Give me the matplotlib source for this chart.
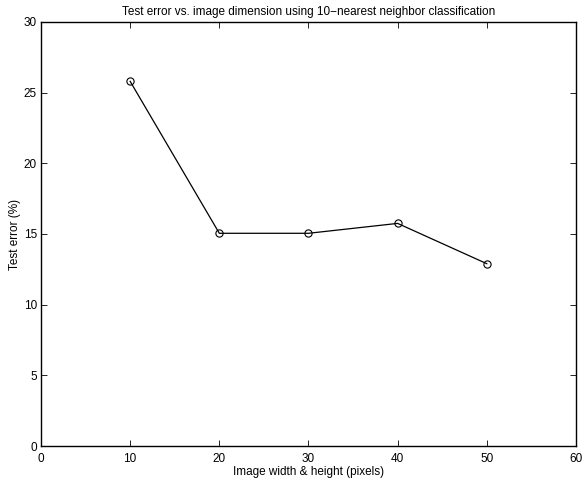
import matplotlib
matplotlib.use("Agg")
import matplotlib.pyplot as plt

plt.rcParams['font.family'] = ['Liberation Sans', 'DejaVu Sans']

# data
dims = [10, 20, 30, 40, 50]
test_error = [25.8, 15.05, 15.05, 15.75, 12.9]
xticks = [0, 10, 20, 30, 40, 50, 60]
yticks = [0, 5, 10, 15, 20, 25, 30]

fig = plt.figure(figsize=(5.84, 4.8), dpi=100)
ax = fig.add_axes([0.0702, 0.0708, 0.916, 0.8834])
ax.plot(dims, test_error, color='black', linewidth=0.9,
        marker='o', markersize=5.2, markerfacecolor='none', markeredgewidth=0.8)
ax.set_xlim(0, 60)
ax.set_ylim(0, 30)
ax.set_xticks(xticks)
ax.set_yticks(yticks)
ax.tick_params(direction='in', top=True, right=True, labelsize=8.5, length=4, width=0.6)
ax.tick_params(axis='x', pad=5)
ax.tick_params(axis='y', pad=3)
for s in ax.spines.values():
    s.set_linewidth(1.0)
ax.set_xlabel('Image width & height (pixels)', fontsize=8.5, labelpad=1)
ax.set_ylabel('Test error (%)', fontsize=8.5, labelpad=2)
ax.set_title('Test error vs. image dimension using 10\u2212nearest neighbor classification', fontsize=8.5, pad=5)
fig.savefig('out.png', dpi=100)
